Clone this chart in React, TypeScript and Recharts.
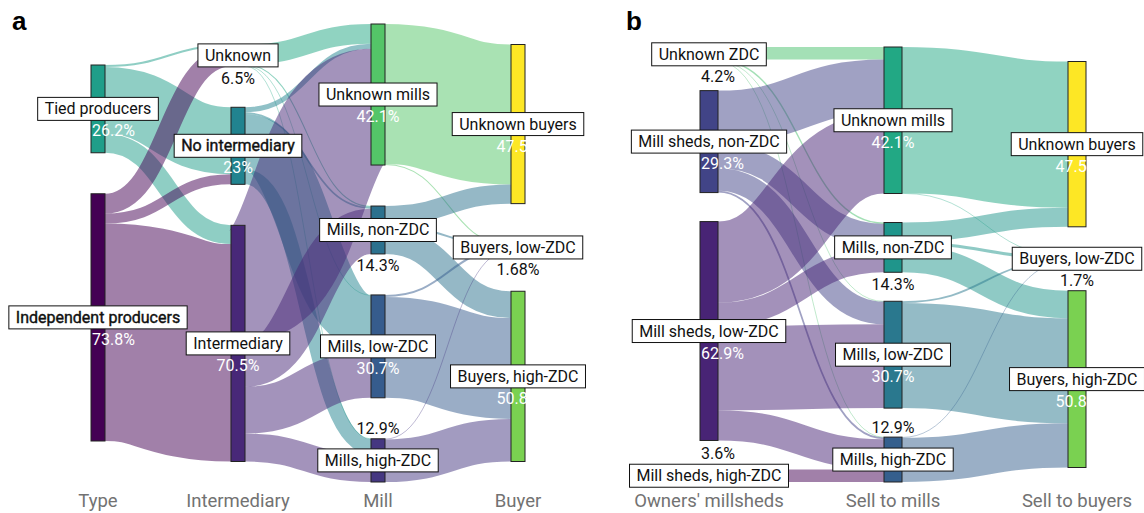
import React from "react";
import { Sankey } from "recharts";

// ---- panel a ----
const nodesA = [
  "Tied producers",
  "Independent producers",
  "Unknown",
  "No intermediary",
  "Intermediary",
  "Unknown mills",
  "Mills, non-ZDC",
  "Mills, low-ZDC",
  "Mills, high-ZDC",
  "Unknown buyers",
  "Buyers, low-ZDC",
  "Buyers, high-ZDC",
];
const sharesA = ["26.2%", "73.8%", "6.5%", "23%", "70.5%", "42.1%", "14.3%", "30.7%", "12.9%", "47.5%", "1.68%", "50.8%"];
const linksA: [number, number, number][] = [
  [0, 2, 0.6], [0, 3, 20], [0, 4, 5.6],
  [1, 2, 5.9], [1, 3, 3.0], [1, 4, 64.9],
  [2, 5, 5.9], [2, 6, 0.3], [2, 7, 0.2], [2, 8, 0.1],
  [3, 5, 1.5], [3, 6, 0.5], [3, 7, 16.5], [3, 8, 4.5],
  [4, 5, 34.7], [4, 6, 13.5], [4, 7, 14.0], [4, 8, 8.3],
  [5, 9, 41.8], [5, 10, 0.3],
  [6, 9, 5.7], [6, 10, 0.6], [6, 11, 8.0],
  [7, 10, 0.6], [7, 11, 30.1],
  [8, 10, 0.18], [8, 11, 12.72],
];
const stagesA = ["Type", "Intermediary", "Mill", "Buyer"];

// ---- panel b ----
const nodesB = [
  "Unknown ZDC",
  "Mill sheds, non-ZDC",
  "Mill sheds, low-ZDC",
  "Mill sheds, high-ZDC",
  "Unknown mills",
  "Mills, non-ZDC",
  "Mills, low-ZDC",
  "Mills, high-ZDC",
  "Unknown buyers",
  "Buyers, low-ZDC",
  "Buyers, high-ZDC",
];
const sharesB = ["4.2%", "29.3%", "62.9%", "3.6%", "42.1%", "14.3%", "30.7%", "12.9%", "47.5%", "1.7%", "50.8%"];
const linksB: [number, number, number][] = [
  [0, 4, 3.6], [0, 5, 0.4], [0, 6, 0.1], [0, 7, 0.1],
  [1, 4, 15.2], [1, 5, 7.1], [1, 6, 6.5], [1, 7, 0.5],
  [2, 4, 23.3], [2, 5, 6.8], [2, 6, 24.1], [2, 7, 8.7],
  [3, 7, 3.6],
  [4, 8, 42.0], [4, 9, 0.1],
  [5, 8, 5.5], [5, 9, 0.9], [5, 10, 7.9],
  [6, 9, 0.5], [6, 10, 30.2],
  [7, 9, 0.2], [7, 10, 12.7],
];
const stagesB = ["Owners' millsheds", "Sell to mills", "Sell to buyers"];

// colours per node, same order as the node lists
const coloursA = ["#1f9e89", "#440154", "#22a884", "#21838f", "#482878", "#54c568", "#2c718e", "#365c8d", "#453781", "#fde725", "#addc30", "#7ad151"];
const coloursB = ["#4ac16d", "#414487", "#482475", "#440154", "#22a884", "#1f958b", "#2a788e", "#355f8d", "#fde725", "#addc30", "#7ad151"];

const FONT = "Roboto, 'Noto Sans', sans-serif";
const FS = 16;
const heavy = new Set(["Independent producers", "No intermediary"]);

let ctx: CanvasRenderingContext2D | null = null;
const textWidth = (s: string) => {
  if (!ctx) ctx = document.createElement("canvas").getContext("2d");
  if (!ctx) return s.length * 8;
  ctx.font = `${FS}px Roboto`;
  return ctx.measureText(s).width;
};

// column index of every node (longest path from a source)
const depthsOf = (n: number, links: [number, number, number][]) => {
  const d = new Array(n).fill(0);
  for (let k = 0; k < n; k++) links.forEach(([s, t]) => { if (d[t] < d[s] + 1) d[t] = d[s] + 1; });
  return d;
};

// recharts stacks short columns at the top; shift them so every column is centred
const centreShift = (n: number, links: [number, number, number][], padding: number) => {
  const d = depthsOf(n, links);
  const counts: number[] = [];
  d.forEach((v) => (counts[v] = (counts[v] || 0) + 1));
  const most = Math.max(...counts);
  return { depth: d, shift: counts.map((c) => ((most - c) * padding) / 2) };
};

const makeNode = (names: string[], colours: string[], shares: string[], layout: any, bottom: number) => (props: any) => {
  const { x, width, height, index } = props;
  const dep = layout.depth[index];
  const y = props.y + layout.shift[dep];
  const name = names[index];
  const cx = x + width / 2;
  const cy = y + height / 2;
  const bw = textWidth(name) + 14;
  const bh = 23;
  let py: number;
  let pFill = "#111";
  if (height >= 60) {
    py = cy + 22;
    pFill = "#fff";
  } else if (y + height >= bottom - 1) {
    py = Math.min(y - 10, cy - 22);
  } else {
    py = Math.max(y + height + 12, cy + 22);
  }
  const first = dep === 0;
  return (
    <g>
      <rect x={x} y={y} width={width} height={height} fill={colours[index]} stroke="#222" strokeWidth={1} />
      <rect x={cx - bw / 2} y={cy - bh / 2} width={bw} height={bh} fill="#fff" stroke="#111" strokeWidth={1} />
      <text
        x={cx}
        y={cy + 5.5}
        textAnchor="middle"
        fontFamily={FONT}
        fontSize={FS}
        fill="#111"
        stroke={heavy.has(name) ? "#111" : "none"}
        strokeWidth={0.4}
      >
        {name}
      </text>
      <text x={first ? x + 1 : cx} y={py + 5.5} textAnchor={first ? "start" : "middle"} fontFamily={FONT} fontSize={FS} fill={pFill}>
        {shares[index]}
      </text>
    </g>
  );
};

const makeLink = (names: string[], colours: string[], layout: any) => (props: any) => {
  const { sourceX, targetX, sourceControlX, targetControlX, linkWidth, payload } = props;
  const s = typeof payload.source === "object" ? names.indexOf(payload.source.name) : payload.source;
  const t = typeof payload.target === "object" ? names.indexOf(payload.target.name) : payload.target;
  const sy = props.sourceY + layout.shift[layout.depth[s]];
  const ty = props.targetY + layout.shift[layout.depth[t]];
  return (
    <path
      d={`M${sourceX},${sy}C${sourceControlX},${sy} ${targetControlX},${ty} ${targetX},${ty}`}
      fill="none"
      stroke={colours[s]}
      strokeOpacity={0.5}
      strokeWidth={Math.max(linkWidth, 0.7)}
    />
  );
};

const toData = (names: string[], links: [number, number, number][]) => ({
  nodes: names.map((name) => ({ name })),
  links: links.map(([source, target, value]) => ({ source, target, value })),
});

const titleStyle = (left: number): React.CSSProperties => ({
  position: "absolute",
  top: 490,
  left: left - 100,
  width: 200,
  textAlign: "center",
  fontFamily: FONT,
  fontSize: 18.5,
  color: "#727272",
});

const letterStyle = (left: number): React.CSSProperties => ({
  position: "absolute",
  top: 6,
  left,
  fontFamily: "'Liberation Sans', Arial, sans-serif",
  fontWeight: 700,
  fontSize: 26,
  color: "#000",
});

const marginA = { top: 24, left: 91, right: 75, bottom: 31 };
const marginB = { top: 47, left: 100, right: 58, bottom: 31 };
const padA = 41;
const padB = 29;
const layoutA = centreShift(nodesA.length, linksA, padA);
const layoutB = centreShift(nodesB.length, linksB, padB);

export default function App() {
  return (
    <div style={{ position: "absolute", left: 0, top: 0, width: 1144, height: 513, background: "#fff", overflow: "hidden" }}>
      <div style={{ position: "absolute", left: 0, top: 0 }}>
        <Sankey
          width={600}
          height={513}
          data={toData(nodesA, linksA)}
          nodeWidth={14}
          nodePadding={padA}
          iterations={0}
          margin={marginA}
          sort={false}
          node={makeNode(nodesA, coloursA, sharesA, layoutA, 513 - marginA.bottom)}
          link={makeLink(nodesA, coloursA, layoutA)}
        />
      </div>
      <div style={{ position: "absolute", left: 600, top: 0 }}>
        <Sankey
          width={544}
          height={513}
          data={toData(nodesB, linksB)}
          nodeWidth={18}
          nodePadding={padB}
          iterations={0}
          margin={marginB}
          sort={false}
          node={makeNode(nodesB, coloursB, sharesB, layoutB, 513 - marginB.bottom)}
          link={makeLink(nodesB, coloursB, layoutB)}
        />
      </div>
      <div style={letterStyle(12)}>a</div>
      <div style={letterStyle(626)}>b</div>
      {stagesA.map((s, i) => (
        <div key={s} style={titleStyle(98 + i * 140)}>{s}</div>
      ))}
      {stagesB.map((s, i) => (
        <div key={s} style={titleStyle(709 + i * 184)}>{s}</div>
      ))}
    </div>
  );
}
